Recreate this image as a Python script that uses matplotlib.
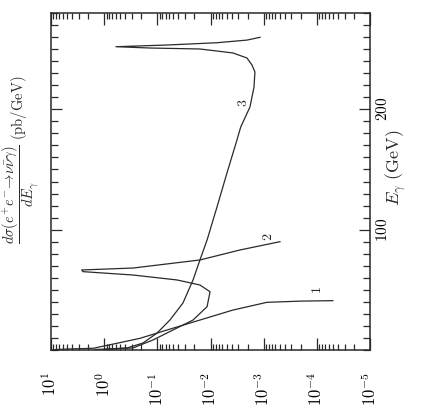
import numpy as np
import matplotlib
matplotlib.use("Agg")
import matplotlib.pyplot as plt
from matplotlib.ticker import LogLocator, MultipleLocator, NullFormatter

plt.rcParams['mathtext.fontset'] = 'cm'
plt.rcParams['font.family'] = ['DejaVu Serif']

# photon energy (GeV) and d(sigma)/dE (pb/GeV) for the three curves
e_1 = [0.3, 0.8, 1.4, 5.6, 9.7, 16.6, 24.9, 33.2, 39.6, 40.6, 41.0]
sig_1 = [8.4, 5.0, 1.62, 0.574, 0.212, 0.0658, 0.0158, 0.00378, 0.00087, 0.00021, 0.00005]

e_2 = [0.4, 1.7, 8.3, 16.6, 24.9, 36.0, 48.4, 54.0, 58.2, 62.3, 65.1, 66.5,
       68.1, 74.8, 83.1, 90.0]
sig_2 = [1.5, 0.287, 0.121, 0.0508, 0.0213, 0.0116, 0.0102, 0.0158, 0.0427,
         0.287, 2.5, 2.65, 0.287, 0.0158, 0.00279, 0.000493]

e_3 = [0.6, 1.7, 5.8, 14.1, 24.9, 39.0, 58.2, 74.8, 91.4, 118.8, 147.1,
       174.5, 185.3, 201.9, 218.5, 231.0, 236.8, 242.6, 246.8, 250.1, 250.9,
       252.0, 253.4, 255.3, 257.5, 259.8]
sig_3 = [1.0, 0.37, 0.186, 0.101, 0.058, 0.033, 0.0213, 0.0158, 0.0116,
         0.00755, 0.0049, 0.00318, 0.0027, 0.00181, 0.00152, 0.00146, 0.00166,
         0.00206, 0.00378, 0.0158, 0.137, 0.60, 0.0658, 0.00755, 0.00206, 0.00117]

curve_tags = ['1', '2', '3']
tag_pos = [(9.9e-5, 50), (8.3e-4, 94), (2.45e-3, 205)]

sig_ticks = [1e1, 1e0, 1e-1, 1e-2, 1e-3, 1e-4, 1e-5]
sig_labels = [r'$10^{1}$', r'$10^{0}$', r'$10^{-1}$', r'$10^{-2}$',
              r'$10^{-3}$', r'$10^{-4}$', r'$10^{-5}$']
e_ticks = [100, 200]
e_labels = [r'$100$', r'$200$']

fig = plt.figure(figsize=(4.28, 4.13), dpi=100)
ax = fig.add_axes([51 / 428, 1 - 350 / 413, 319 / 428, 337 / 413])

ink = '#2a2a2a'
for e, s in [(e_1, sig_1), (e_2, sig_2), (e_3, sig_3)]:
    ax.plot(s, e, color=ink, lw=0.9)

for tag, (s, e) in zip(curve_tags, tag_pos):
    ax.text(s, e, r'$\mathbf{%s}$' % tag, rotation=90, fontsize=10,
            ha='center', va='center', color=ink)

ax.set_xscale('log')
ax.set_xlim(1e1, 1e-5)
ax.set_ylim(0, 280)

ax.set_xticks(sig_ticks)
ax.set_xticklabels(sig_labels, rotation=90, fontsize=12)
ax.xaxis.set_minor_locator(LogLocator(base=10, subs=np.arange(2, 10)))
ax.xaxis.set_minor_formatter(NullFormatter())

ax.set_yticks(e_ticks)
ax.set_yticklabels(e_labels, rotation=90, fontsize=11, va='center')
ax.yaxis.set_minor_locator(MultipleLocator(10))

ax.tick_params(which='both', direction='in', top=True, bottom=True,
               left=True, right=True, labelleft=False, labelright=True,
               color=ink, width=0.9)
ax.tick_params(axis='x', which='major', length=8.5, pad=16)
ax.tick_params(axis='x', which='minor', length=4.3)
ax.tick_params(axis='y', which='major', length=8, pad=3.5)
ax.tick_params(axis='y', which='minor', length=5)

for sp in ax.spines.values():
    sp.set_color(ink)
    sp.set_linewidth(1.1)

fig.text(21 / 428, 1 - 160 / 413,
         r'$\dfrac{d\sigma(e^{+}e^{-}\!\to\!\nu\bar{\nu}\gamma)}{dE_{\gamma}}\ \mathrm{(pb/GeV)}$',
         rotation=90, ha='center', va='center', fontsize=10.5, color=ink)
fig.text(396 / 428, 1 - 168 / 413, r'$E_{\gamma}\ \mathrm{(GeV)}$',
         rotation=90, ha='center', va='center', fontsize=13, color=ink)

fig.savefig('out.png', dpi=100)
